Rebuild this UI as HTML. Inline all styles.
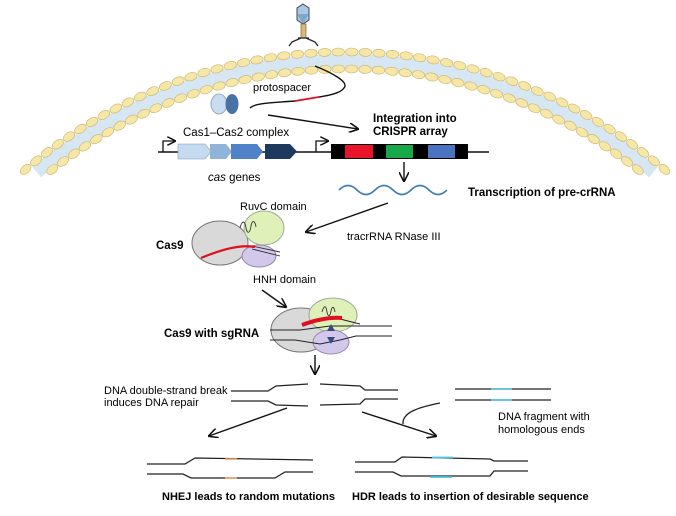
<!DOCTYPE html>
<html><head><style>
body{margin:0;background:#fff;}
svg{display:block;font-family:"Liberation Sans",Arial,sans-serif;}
</style></head><body>
<svg width="676" height="516" viewBox="0 0 676 516" xmlns="http://www.w3.org/2000/svg">
<defs>
<marker id="ah" viewBox="0 0 10 10" refX="9" refY="5" markerWidth="7" markerHeight="7" orient="auto"><path d="M0,0 L10,5 L0,10" fill="none" stroke="#111" stroke-width="1.6"/></marker>
</defs>
<g id="mem"></g>
<!-- phage -->
<polygon points="303,4 309,8 309,20 303,24 297,20 297,8" fill="#a9c8e6" stroke="#444" stroke-width="1"/>
<polygon points="297,14 309,14 303,24" fill="#7fa6cc"/>
<rect x="301" y="24" width="5" height="14" fill="#e0b870" stroke="#555" stroke-width="0.6"/>
<path d="M301,38 L292,42 L289,46 M306,38 L315,42 L318,46 M298,38 H309" stroke="#222" stroke-width="1.3" fill="none"/>
<!-- Cas1-Cas2 -->
<ellipse cx="219" cy="104" rx="8" ry="10" fill="#c8dcf2" stroke="#9ab"/>
<ellipse cx="232" cy="104" rx="6.5" ry="10" fill="#4a72a8"/>
<!-- protospacer -->
<path d="M315,66 C330,72 350,82 344,88 C340,94 325,96 319,97" stroke="#111" stroke-width="1.4" fill="none"/>
<path d="M319,97 L295,101" stroke="#e01020" stroke-width="1.8"/>
<path d="M295,101 C270,103 255,103 250,108" stroke="#111" stroke-width="1.4" fill="none"/>
<text x="253" y="91" font-size="11">protospacer</text>
<line x1="268" y1="115" x2="358" y2="129" stroke="#111" stroke-width="1.4" marker-end="url(#ah)"/>
<text x="373" y="122" font-size="11.5" font-weight="bold">Integration into</text>
<text x="373" y="135" font-size="11.5" font-weight="bold">CRISPR array</text>
<text x="183" y="136" font-size="11.5">Cas1–Cas2 complex</text>
<!-- gene line -->
<line x1="158" y1="152" x2="489" y2="152" stroke="#111" stroke-width="1.4"/>
<path d="M163,152 V141 H175" stroke="#111" stroke-width="1.3" fill="none" marker-end="url(#ah)"/>
<path d="M316,152 V141 H328" stroke="#111" stroke-width="1.3" fill="none" marker-end="url(#ah)"/>
<polygon points="178,144 205,144 211,151.5 205,159 178,159" fill="#c7dbf0" stroke="#7d9ab8" stroke-width="0.6"/>
<polygon points="210,144 226,144 232,151.5 226,159 210,159" fill="#8fb3d9"/>
<polygon points="231,144 257,144 263,151.5 257,159 231,159" fill="#4f82c8"/>
<polygon points="265,144 290,144 297,151.5 290,159 265,159" fill="#1d3a5e"/>
<rect x="331" y="144" width="137" height="15" fill="#000"/>
<rect x="345" y="145" width="28" height="13" fill="#e8142a"/>
<rect x="386" y="145" width="27" height="13" fill="#17a84a"/>
<rect x="428" y="145" width="27" height="13" fill="#4a74c0"/>
<text x="208" y="181" font-size="11.5"><tspan font-style="italic">cas</tspan> genes</text>
<line x1="404" y1="162" x2="404" y2="181" stroke="#111" stroke-width="1.4" marker-end="url(#ah)"/>
<path d="M339,190 q9,-9 18,0 t18,0 t18,0 t18,0 t18,0 t18,0" stroke="#3f7fb8" stroke-width="1.6" fill="none"/>
<text x="468" y="196" font-size="11.5" font-weight="bold">Transcription of pre-crRNA</text>
<!-- Cas9 -->
<line x1="388" y1="203" x2="306" y2="232" stroke="#111" stroke-width="1.4" marker-end="url(#ah)"/>
<text x="347" y="240" font-size="11">tracrRNA RNase III</text>
<text x="240" y="210" font-size="11">RuvC domain</text>
<ellipse cx="220" cy="243" rx="28" ry="22" fill="#d9d9d9" stroke="#777"/>
<ellipse cx="264" cy="228" rx="20" ry="17" fill="#dff0b8" stroke="#9a9"/>
<ellipse cx="259" cy="256" rx="17" ry="11" fill="#d2c8ec" stroke="#98a"/>
<path d="M240,228 c2,-8 5,-8 6,0 c1,6 4,6 5,-2 c1,-6 4,-6 5,1" stroke="#333" fill="none" stroke-width="0.9"/>
<path d="M252,246 L280,252 M252,249 L280,256" stroke="#333" stroke-width="0.9"/>
<path d="M201,258 C220,250 240,244 255,247" stroke="#e01020" stroke-width="2.2" fill="none"/>
<text x="156" y="249" font-size="11.5" font-weight="bold">Cas9</text>
<text x="253" y="283" font-size="11">HNH domain</text>
<line x1="262" y1="290" x2="286" y2="307" stroke="#111" stroke-width="1.4" marker-end="url(#ah)"/>
<ellipse cx="301" cy="330" rx="30" ry="22" fill="#d9d9d9" stroke="#777"/>
<ellipse cx="333" cy="315" rx="24" ry="17" fill="#dff0b8" stroke="#9a9"/>
<ellipse cx="331" cy="342" rx="18" ry="12" fill="#d2c8ec" stroke="#98a"/>
<path d="M322,312 c2,-7 4,-7 5,0 c1,5 3,5 4,-1 c1,-5 3,-5 4,1" stroke="#333" fill="none" stroke-width="0.9"/>
<path d="M270,330 H300 L330,326 L392,326 M340,319 L360,324 M270,340 H295 L320,344 L340,340 L356,336 H392" stroke="#222" stroke-width="1" fill="none"/>
<path d="M302,325 C315,320 330,317 342,318" stroke="#e01020" stroke-width="4" fill="none"/>
<polygon points="331,324 335,331 327,331" fill="#3a4a7a"/>
<polygon points="331,344 335,337 327,337" fill="#3a4a7a"/>
<text x="164" y="337" font-size="11.5" font-weight="bold">Cas9 with sgRNA</text>
<line x1="315" y1="355" x2="315" y2="374" stroke="#111" stroke-width="1.4" marker-end="url(#ah)"/>
<!-- DSB -->
<text x="104" y="394" font-size="11">DNA double-strand break</text>
<text x="104" y="406" font-size="11">induces DNA repair</text>
<g stroke="#222" stroke-width="1.3" fill="none">
<path d="M231,391 H268 L276,386 L308,384"/>
<path d="M231,401 H268 L276,405 L308,406"/>
<path d="M320,384 L360,386 L365,390 H398"/>
<path d="M320,405 L360,404 L365,399 H398"/>
<path d="M455,389 H551 M455,400 H551"/>
<path d="M440,403 C420,407 402,412 403,424"/>
<path d="M147,464 H185 L195,458 L313,460"/>
<path d="M147,474 H183 L191,478 L275,478 L285,472 H313"/>
<path d="M355,462 H395 L402,457 L490,459 L494,461 H528"/>
<path d="M355,472 H393 L401,476 L490,476 L494,471 H528"/>
</g>
<path d="M491,389 H512 M491,400 H512" stroke="#48c4e8" stroke-width="1.6"/>
<path d="M225,459 H237 M225,478 H237" stroke="#f0a060" stroke-width="1.6"/>
<path d="M432,457.5 H453 M430,477 H452" stroke="#48c4e8" stroke-width="1.8"/>
<line x1="287" y1="408" x2="209" y2="436" stroke="#111" stroke-width="1.4" marker-end="url(#ah)"/>
<line x1="362" y1="412" x2="436" y2="436" stroke="#111" stroke-width="1.4" marker-end="url(#ah)"/>
<text x="498" y="420" font-size="11">DNA fragment with</text>
<text x="498" y="433" font-size="11">homologous ends</text>
<text x="162" y="500" font-size="11" font-weight="bold">NHEJ leads to random mutations</text>
<text x="352" y="500" font-size="11" font-weight="bold">HDR leads to insertion of desirable sequence</text>
</svg>
<script>
(function(){
var g=document.getElementById('mem'),cx=345,cy=545,h='';
function lim(r){return Math.acos(373/r);}
var am=lim(484);
var x0=cx-484*Math.sin(am),y0=cy-484*Math.cos(am),x1=cx+484*Math.sin(am);
h+='<path d="M'+x0+','+y0+' A484,484 0 0 1 '+x1+','+y0+'" stroke="#d6e6f2" stroke-width="14" fill="none"/>';
[493,476].forEach(function(r){var L=lim(r)-0.008,n=Math.round(2*L*r/13.5),step=2*L/n;for(var i=0;i<=n;i++){var a=-L+i*step;var x=cx+r*Math.sin(a),y=cy-r*Math.cos(a),d=a*180/Math.PI;
h+='<ellipse cx="'+x.toFixed(1)+'" cy="'+y.toFixed(1)+'" rx="6.3" ry="4" transform="rotate('+d.toFixed(1)+' '+x.toFixed(1)+' '+y.toFixed(1)+')" fill="#f6e7a6" stroke="#c9b26a" stroke-width="0.6"/>';}});
g.innerHTML=h;})();
</script>
</body></html>
